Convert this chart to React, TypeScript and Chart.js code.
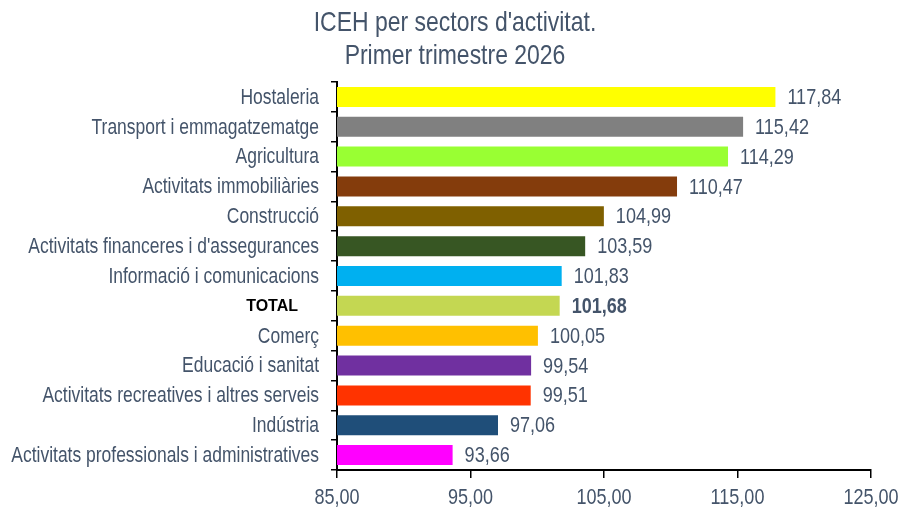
import React, { useEffect, useRef } from "react";
import { Chart, registerables } from "chart.js";

Chart.register(...registerables);

const titleLines = ["ICEH per sectors d'activitat.", "Primer trimestre 2026"];

const categories = [
  "Hostaleria",
  "Transport i emmagatzematge",
  "Agricultura",
  "Activitats immobiliàries",
  "Construcció",
  "Activitats financeres i d'assegurances",
  "Informació i comunicacions",
  "TOTAL",
  "Comerç",
  "Educació i sanitat",
  "Activitats recreatives i altres serveis",
  "Indústria",
  "Activitats professionals i administratives",
];

const values = [117.84, 115.42, 114.29, 110.47, 104.99, 103.59, 101.83, 101.68, 100.05, 99.54, 99.51, 97.06, 93.66];

const barColors = [
  "#FFFF00",
  "#808080",
  "#99FF33",
  "#843C0C",
  "#7F6000",
  "#375623",
  "#00B0F0",
  "#C4D752",
  "#FFC000",
  "#7030A0",
  "#FF3300",
  "#1F4E79",
  "#FF00FF",
];

const xTickValues = [85, 95, 105, 115, 125];

const totalIndex = 7;
const xMin = 85;
const xMax = 125;
const xStep = 10;

const TEXT = "#44546A";
const SANS = '"Liberation Sans", Arial, sans-serif';
const NARROW_SCALE = 0.82;

const fmt = (v: number) => v.toFixed(2).replace(".", ",");

function narrowText(
  ctx: CanvasRenderingContext2D,
  text: string,
  x: number,
  y: number,
  font: string,
  color: string,
  align: CanvasTextAlign,
  scale = NARROW_SCALE
) {
  ctx.save();
  ctx.translate(x, y);
  ctx.scale(scale, 1);
  ctx.font = font;
  ctx.fillStyle = color;
  ctx.textAlign = align;
  ctx.textBaseline = "middle";
  ctx.fillText(text, 0, 0);
  ctx.restore();
}

export default function App() {
  const ref = useRef<HTMLCanvasElement | null>(null);

  useEffect(() => {
    document.body.style.margin = "0";
    const canvas = ref.current;
    if (!canvas) return;

    const textPlugin = {
      id: "textPlugin",
      afterDraw(chart: any) {
        const ctx = chart.ctx as CanvasRenderingContext2D;
        const meta = chart.getDatasetMeta(0);
        const xs = chart.scales.x;
        const ys = chart.scales.y;
        const area = chart.chartArea;

        // title
        narrowText(ctx, titleLines[0], 455, 23, "28px " + SANS, TEXT, "center");
        narrowText(ctx, titleLines[1], 455, 56, "28px " + SANS, TEXT, "center");

        // category labels
        categories.forEach((c, i) => {
          const y = ys.getPixelForValue(i);
          if (i === totalIndex) {
            narrowText(ctx, c, 298, y + 1, "bold 16px " + SANS, "#000000", "right", 1);
          } else {
            narrowText(ctx, c, 319, y + 1, "21.3px " + SANS, TEXT, "right");
          }
        });

        // value labels
        meta.data.forEach((bar: any, i: number) => {
          const font = (i === totalIndex ? "bold " : "") + "22px " + SANS;
          narrowText(ctx, fmt(values[i]), bar.x + 12, bar.y + 1, font, TEXT, "left");
        });

        // x tick labels
        xTickValues.forEach((v) => {
          narrowText(ctx, fmt(v), xs.getPixelForValue(v), area.bottom + 28, "22px " + SANS, TEXT, "center");
        });
      },
    };

    const chart = new Chart(canvas, {
      type: "bar",
      data: {
        labels: categories,
        datasets: [
          {
            data: values,
            backgroundColor: barColors,
            borderWidth: 0,
            barPercentage: 0.67,
            categoryPercentage: 1,
          },
        ],
      },
      options: {
        indexAxis: "y",
        animation: false,
        responsive: false,
        maintainAspectRatio: false,
        layout: { padding: { left: 0, right: 31, top: 82, bottom: 0 } },
        plugins: {
          legend: { display: false },
          tooltip: { enabled: false },
          title: { display: false },
        },
        scales: {
          x: {
            min: xMin,
            max: xMax,
            ticks: {
              stepSize: xStep,
              display: false,
            },
            grid: {
              drawOnChartArea: false,
              drawTicks: true,
              tickLength: 8,
              color: "#000000",
              lineWidth: 1.5,
            },
            border: { display: true, color: "#000000", width: 2 },
            afterFit: (scale: any) => {
              scale.height = 46;
            },
          },
          y: {
            ticks: { display: false, autoSkip: false },
            grid: {
              drawOnChartArea: false,
              drawTicks: true,
              tickLength: 6,
              color: "#000000",
              lineWidth: 1.5,
            },
            border: { display: true, color: "#000000", width: 2 },
            afterFit: (scale: any) => {
              scale.width = 337;
            },
          },
        },
      },
      plugins: [textPlugin],
    });

    return () => chart.destroy();
  }, []);

  return (
    <div style={{ width: 902, height: 516 }}>
      <canvas ref={ref} width={902} height={516} style={{ display: "block" }} />
    </div>
  );
}
